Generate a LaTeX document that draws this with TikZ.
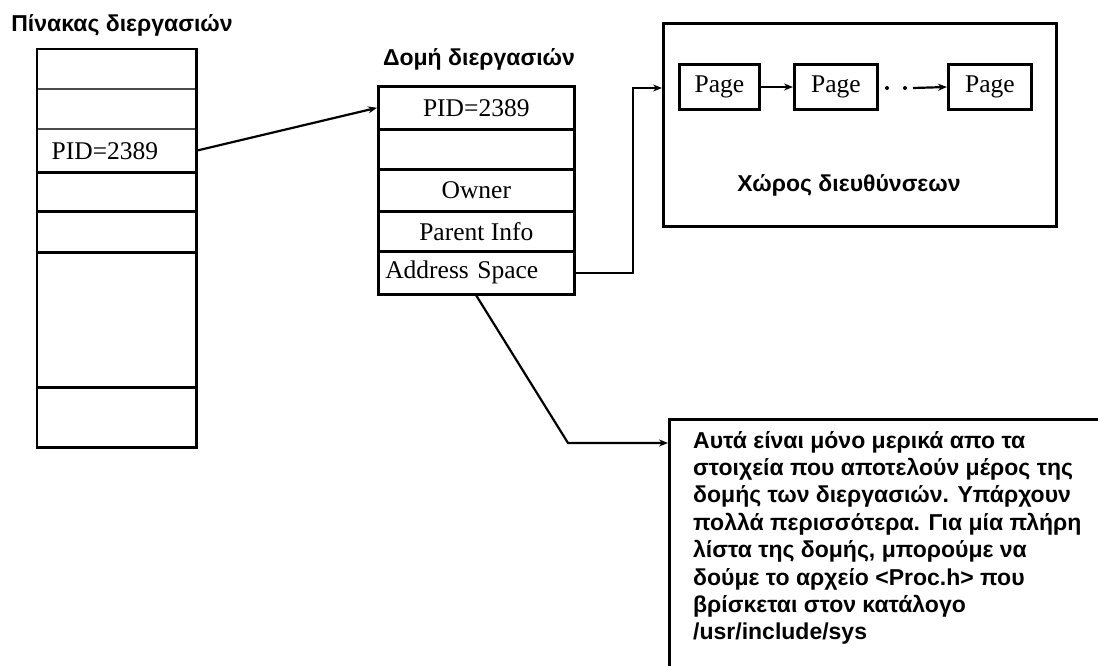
\documentclass[tikz,border=0pt]{standalone}
\usepackage{fontspec}
\setmainfont{Liberation Serif}
\newfontfamily\grsans{Liberation Sans}
\usetikzlibrary{arrows.meta,calc}
\begin{document}
\begin{tikzpicture}[x=1pt,y=-1pt,
  cell/.style={draw,line width=2.6pt,inner sep=0pt,anchor=north west,font=\fontsize{25.5}{28}\selectfont},
  lcell/.style={inner sep=0pt,anchor=north west,minimum width=159pt,font=\fontsize{25.5}{28}\selectfont},
  sep/.style={line width=2.6pt},
  lightsep/.style={line width=1.8pt,black!70},
  frame/.style={draw,line width=3pt,inner sep=0pt,anchor=north west},
  title/.style={font=\grsans\bfseries\fontsize{23}{26}\selectfont,inner sep=0pt},
  conn/.style={line width=2.2pt,-{Stealth[length=9pt,width=7pt]}},
  pagebox/.style={draw,line width=3pt,inner sep=0pt,anchor=north west,font=\fontsize{25.5}{28}\selectfont}]
\useasboundingbox (0,0) rectangle (1098,666);
\clip (0,0) rectangle (1098,666);
% left table
\node[title] (ltitle) at (122,25) {Πίνακας διεργασιών};
\node[lcell,minimum height=40pt] (l1) at (37,49) {};
\node[lcell,minimum height=40pt] (l2) at (37,89) {};
\node[lcell,minimum height=43pt,text width=150pt,align=left] (lpid) at (37,129) {\hspace*{10pt}PID=2389};
\node[lcell,minimum height=39pt] (l4) at (37,172) {};
\node[lcell,minimum height=41pt] (l5) at (37,211) {};
\node[lcell,minimum height=135pt] (l6) at (37,252) {};
\node[lcell,minimum height=60pt] (l7) at (37,387) {};
\draw[lightsep] (l1.south west) -- (l1.south east);
\draw[lightsep] (l2.south west) -- (l2.south east);
\draw[sep] (lpid.south west) -- (lpid.south east);
\draw[sep] (l4.south west) -- (l4.south east);
\draw[sep] (l5.south west) -- (l5.south east);
\draw[sep] (l6.south west) -- (l6.south east);
\draw[line width=2.8pt] (l1.north west) rectangle (l7.south east);
% middle table
\node[title] (mtitle) at (479,59) {Δομή διεργασιών};
\node[cell,minimum width=196pt,minimum height=43pt] (mpid) at (377,85) {PID=2389};
\node[cell,minimum width=196pt,minimum height=40pt] (m2) at (377,128) {};
\node[cell,minimum width=196pt,minimum height=42pt] (mown) at (377,168) {Owner};
\node[cell,minimum width=196pt,minimum height=40pt] (mpar) at (377,210) {Parent Info};
\node[cell,minimum width=196pt,minimum height=43pt,text width=190pt,align=left] (maddr) at (377,250) {\hspace*{4pt}Address Space};
% address space box
\node[frame,minimum width=393pt,minimum height=203pt] (space) at (662,22) {};
\node[pagebox,minimum width=80pt,minimum height=45pt] (p1) at (678,63) {Page};
\node[pagebox,minimum width=83pt,minimum height=45pt] (p2) at (793,63) {Page};
\node[pagebox,minimum width=83pt,minimum height=45pt] (p3) at (947,63) {Page};
\node[title] (stitle) at (849,185) {Χώρος διευθύνσεων};
\fill (887,88) circle (2pt) (905,88) circle (2pt);
\coordinate (dots) at (913,88);
\draw[conn] (p1.east) -- (p2.west);
\draw[conn] (dots) -- (p3.west);
% note box
\node[frame,minimum width=480pt,minimum height=300pt] (note) at (668,418) {};
\node[anchor=north west,inner sep=0pt,align=left,font=\grsans\bfseries\fontsize{23}{27.4}\selectfont] (notetext) at (693,431) {Αυτά είναι μόνο μερικά απο τα\\στοιχεία που αποτελούν μέρος της\\δομής των διεργασιών. Υπάρχουν\\πολλά περισσότερα. Για μία πλήρη\\λίστα της δομής, μπορούμε να\\δούμε το αρχείο <Proc.h> που\\βρίσκεται στον κατάλογο\\/usr/include/sys};
% connectors
\draw[conn] (lpid.east) -- (mpid.west);
\coordinate (b1) at (633,88);
\draw[conn] (maddr.east) -| (b1) -- (space.west |- b1);
\coordinate (b2) at (568,443);
\draw[conn] (maddr.south) -- (b2) -- (note.west |- b2);
\end{tikzpicture}
\end{document}
